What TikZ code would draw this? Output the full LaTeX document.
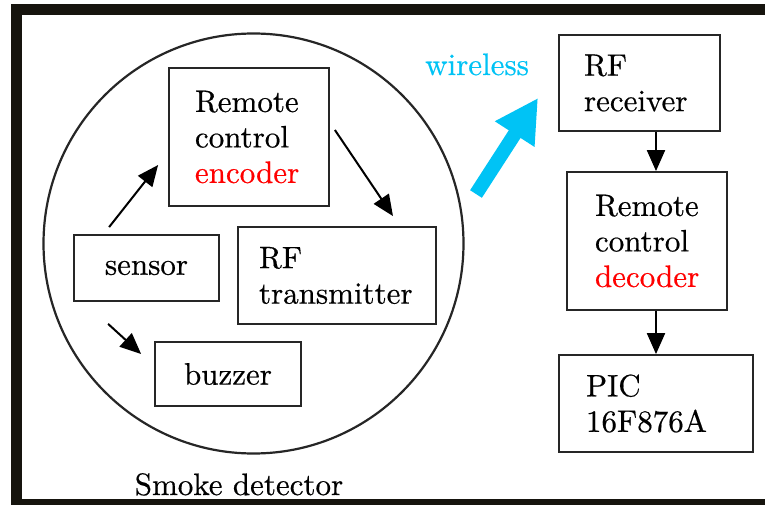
\documentclass[tikz,border=0pt]{standalone}
\usepackage{fontspec}
\setmainfont{lmroman10-regular.otf}[FakeBold=0.5]
\usetikzlibrary{arrows.meta,calc}
\definecolor{wl}{RGB}{0,195,245}
\definecolor{framec}{RGB}{22,20,14}
\begin{document}
\begin{tikzpicture}[x=1pt,y=-1pt,
  every node/.style={font=\rmfamily\fontsize{31}{35.5}\selectfont},
  box/.style={draw=black!85, line width=1.8pt, align=left, inner xsep=0pt, inner ysep=0pt},
  arr/.style={line width=2pt, -{Triangle[length=21pt,width=18pt]}},
]
\useasboundingbox (0,0) rectangle (765,505);
\fill[white] (0,0) rectangle (765,505);
% frame
\fill[framec] (11,4) rectangle (765,15);
\fill[framec] (11,4) rectangle (22,505);
\fill[framec] (11,499) rectangle (765,505);
% detector circle
\draw[line width=2.2pt, black!85] (253.5,243.5) circle [radius=210pt];
% boxes
\node[box, text width=108pt, inner xsep=26pt, minimum height=138pt] (enc) at (249,137) {Remote\\control\\\textcolor{red}{encoder}};
\node[box, text width=156pt, inner xsep=21pt, minimum height=97pt] (tx) at (337,275.5) {RF\\transmitter};
\node[box, minimum width=145pt, minimum height=66pt] (sen) at (146.5,268) {sensor};
\node[box, minimum width=146pt, minimum height=64pt] (buz) at (228,374) {buzzer};
\node[box, text width=111pt, inner xsep=25pt, minimum height=96pt] (rx) at (639.5,83) {RF\\receiver};
\node[box, text width=104pt, inner xsep=28pt, minimum height=138pt] (dec) at (647,241) {Remote\\control\\\textcolor{red}{decoder}};
\node[box, text width=140pt, inner xsep=27pt, minimum height=97pt] (pic) at (656,403.5) {PIC\\16F876A};
% labels
\node[anchor=base, inner sep=0pt] (lbl) at (239,495) {Smoke detector};
\node[anchor=base west, inner sep=0pt, text=wl] (wtxt) at (425,75) {wireless};
% arrows
\draw[arr] ($(sen.north west)+(36,-7)$) -- ($(enc.west)+(-10,28)$);
\draw[arr] ($(enc.east)+(5,-7)$) -- ($(tx.north)+(56,-10)$);
\draw[arr] ($(sen.south west)+(35,22)$) -- ($(buz.west)+(-13,-20)$);
\draw[arr] (rx.south -| pic.north) -- (dec.north -| pic.north);
\draw[arr] (dec.south -| pic.north) -- (pic.north);
% wireless arrow
\coordinate (w0) at (476,194);
\coordinate (w1) at (538,98);
\draw[wl, line width=14pt, -{Triangle[length=43pt,width=44pt]}] (w0) -- (w1);
\end{tikzpicture}
\end{document}
